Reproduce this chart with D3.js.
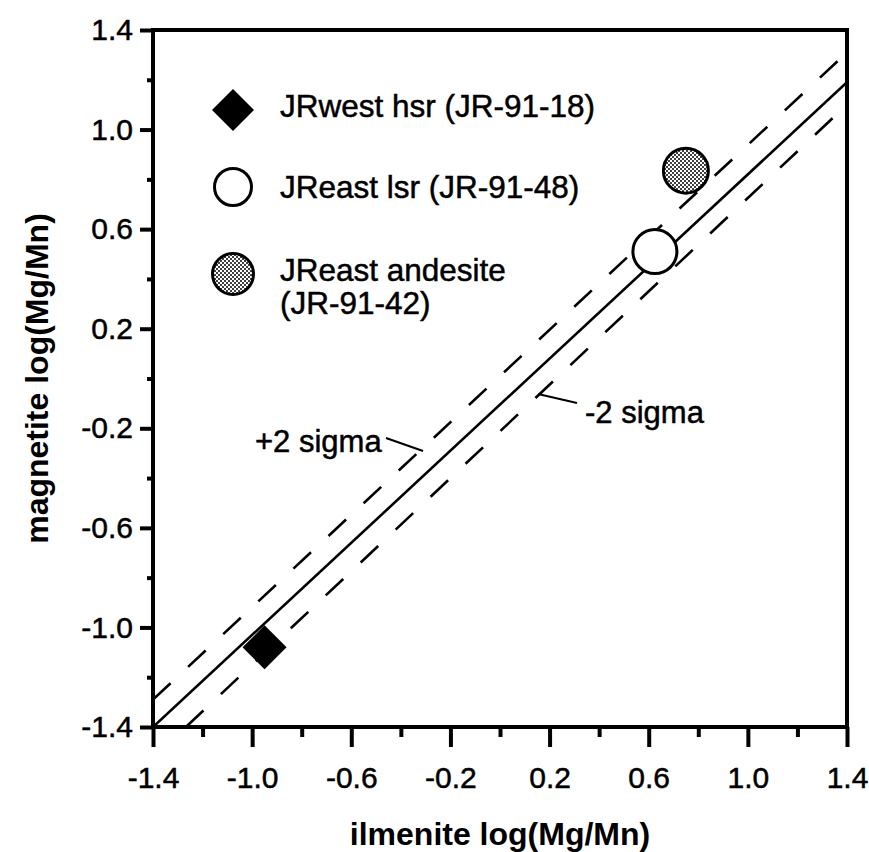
<!DOCTYPE html>
<html>
<head>
<meta charset="utf-8">
<script src="https://cdn.jsdelivr.net/npm/d3@7"></script>
<style>
  html, body { margin: 0; padding: 0; background: #fff; }
  svg { display: block; }
  text { font-family: "Liberation Sans", Arial, Helvetica, sans-serif; fill: #000; }
  .reg { stroke: #000; stroke-width: 0.5px; }
</style>
</head>
<body>
<svg id="chart" width="869" height="852"></svg>
<script>
// ---- data ----
const majorTicks = [-1.4, -1.0, -0.6, -0.2, 0.2, 0.6, 1.0, 1.4];
const minorTicks = [-1.2, -0.8, -0.4, 0.0, 0.4, 0.8, 1.2];
const seriesNames = ["JRwest hsr (JR-91-18)", "JReast lsr (JR-91-48)", "JReast andesite (JR-91-42)"];
const seriesKinds = ["diamond", "open", "stipple"];
const ilmenite = [-0.95, 0.625, 0.75];
const magnetite = [-1.08, 0.51, 0.835];
const fitX = [-1.4, 1.4];
const fitY = [-1.4, 1.19];
const plusSigmaX = [-1.4, 1.4];
const plusSigmaY = [-1.29, 1.31];
const minusSigmaX = [-1.267, 1.4];
const minusSigmaY = [-1.4, 1.10];
const xTitle = "ilmenite log(Mg/Mn)";
const yTitle = "magnetite log(Mg/Mn)";

// ---- layout ----
const svg = d3.select("#chart");
const L = 153, R = 847, T = 30, B = 727;
const x = d3.scaleLinear().domain([-1.4, 1.4]).range([L, R]);
const y = d3.scaleLinear().domain([-1.4, 1.4]).range([B, T]);
const fmt = d => d.toFixed(1);

// stipple pattern
const defs = svg.append("defs");
const pat = defs.append("pattern").attr("id", "stip").attr("patternUnits", "userSpaceOnUse")
  .attr("width", 4).attr("height", 4);
pat.append("rect").attr("width", 4).attr("height", 4).attr("fill", "#fff");
pat.append("circle").attr("cx", 1).attr("cy", 1).attr("r", 1.0).attr("fill", "#000");
pat.append("circle").attr("cx", 3).attr("cy", 3).attr("r", 1.0).attr("fill", "#000");

defs.append("clipPath").attr("id", "clip").append("rect")
  .attr("x", L).attr("y", T).attr("width", R - L).attr("height", B - T);

// ---- axes ----
const gx = svg.append("g").attr("transform", `translate(0,${B})`)
  .call(d3.axisBottom(x).tickValues(majorTicks).tickFormat(fmt).tickSize(20).tickSizeOuter(0).tickPadding(20));
const gxm = svg.append("g").attr("transform", `translate(0,${B})`)
  .call(d3.axisBottom(x).tickValues(minorTicks).tickFormat("").tickSize(10).tickSizeOuter(0));
const gy = svg.append("g").attr("transform", `translate(${L},0)`)
  .call(d3.axisLeft(y).tickValues(majorTicks).tickFormat(fmt).tickSize(13).tickSizeOuter(0).tickPadding(7));
const gym = svg.append("g").attr("transform", `translate(${L},0)`)
  .call(d3.axisLeft(y).tickValues(minorTicks).tickFormat("").tickSize(6).tickSizeOuter(0));
[gx, gxm, gy, gym].forEach(g => {
  g.select(".domain").remove();
  g.selectAll(".tick line").attr("stroke", "#000").attr("stroke-width", 4);
  g.selectAll(".tick text").attr("font-size", 30).attr("font-family", "Liberation Sans, Arial, sans-serif")
    .attr("fill", "#000").attr("class", "reg");
});

// frame
svg.append("rect").attr("x", L).attr("y", T).attr("width", R - L).attr("height", B - T)
  .attr("fill", "none").attr("stroke", "#000").attr("stroke-width", 4);

// ---- lines ----
const plot = svg.append("g").attr("clip-path", "url(#clip)");
const line = d3.line().x(d => x(d[0])).y(d => y(d[1]));
plot.append("path").attr("d", line(d3.zip(fitX, fitY)))
  .attr("stroke", "#000").attr("stroke-width", 2.6).attr("fill", "none");
plot.append("path").attr("d", line(d3.zip(plusSigmaX, plusSigmaY)))
  .attr("stroke", "#000").attr("stroke-width", 2.6).attr("fill", "none").attr("stroke-dasharray", "24 24");
plot.append("path").attr("d", line(d3.zip(minusSigmaX, minusSigmaY)))
  .attr("stroke", "#000").attr("stroke-width", 2.6).attr("fill", "none").attr("stroke-dasharray", "24 24");

// ---- markers ----
function drawMarker(g, kind, cx, cy, size) {
  if (kind === "diamond") {
    const side = size * Math.SQRT2;
    g.append("path").attr("d", d3.symbol(d3.symbolSquare, side * side)())
      .attr("transform", `translate(${cx},${cy}) rotate(45)`).attr("fill", "#000");
  } else if (kind === "open") {
    g.append("circle").attr("cx", cx).attr("cy", cy).attr("r", size)
      .attr("fill", "#fff").attr("stroke", "#000").attr("stroke-width", 3);
  } else {
    g.append("circle").attr("cx", cx).attr("cy", cy).attr("r", size)
      .attr("fill", "url(#stip)").attr("stroke", "#000").attr("stroke-width", 3);
  }
}
const pts = svg.append("g");
const markerSize = [22, 22, 22.5];
seriesKinds.forEach((k, i) => drawMarker(pts, k, x(ilmenite[i]), y(magnetite[i]), markerSize[i]));

// ---- legend ----
const leg = svg.append("g");
const legY = [110, 187, 274];
const legSize = [21, 18.5, 20.5];
seriesKinds.forEach((k, i) => {
  drawMarker(leg, k, 233, legY[i], legSize[i]);
});
const legFs = 31.5;
leg.append("text").attr("class", "reg").attr("x", 280).attr("y", 117).attr("font-size", legFs).text(seriesNames[0]);
leg.append("text").attr("class", "reg").attr("x", 280).attr("y", 198).attr("font-size", legFs).text(seriesNames[1]);
leg.append("text").attr("class", "reg").attr("x", 280).attr("y", 281).attr("font-size", legFs).text("JReast andesite");
leg.append("text").attr("class", "reg").attr("x", 280).attr("y", 314).attr("font-size", legFs).text("(JR-91-42)");

// ---- sigma annotations ----
svg.append("text").attr("class", "reg").attr("x", 255).attr("y", 452).attr("font-size", 31).text("+2 sigma");
svg.append("line").attr("x1", 386).attr("y1", 438).attr("x2", 423).attr("y2", 451)
  .attr("stroke", "#000").attr("stroke-width", 2);
svg.append("text").attr("class", "reg").attr("x", 585).attr("y", 423).attr("font-size", 31).text("-2 sigma");
svg.append("line").attr("x1", 538).attr("y1", 394).attr("x2", 577).attr("y2", 403)
  .attr("stroke", "#000").attr("stroke-width", 2);

// ---- axis titles ----
svg.append("text").attr("x", (L + R) / 2).attr("y", 845).attr("text-anchor", "middle")
  .attr("font-size", 32).attr("font-weight", "bold").text(xTitle);
svg.append("text").attr("transform", `translate(48,${(T + B) / 2}) rotate(-90)`).attr("text-anchor", "middle")
  .attr("font-size", 32).attr("font-weight", "bold").text(yTitle);
</script>
</body>
</html>
